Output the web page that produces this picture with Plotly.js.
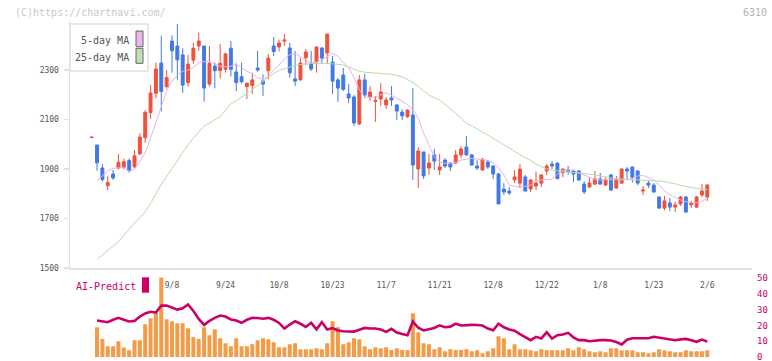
<!DOCTYPE html>
<html><head><meta charset="utf-8">
<script src="https://cdn.plot.ly/plotly-3.0.1.min.js"></script>
<style>html,body{margin:0;padding:0;background:#fff;}#chart{width:772px;height:361px;}</style>
</head><body><div id="chart"></div>
<script>
const dates = ['8/18','8/19','8/20','8/21','8/22','8/25','8/26','8/27','8/28','8/29',
'9/1','9/2','9/3','9/4','9/5','9/8','9/9','9/10','9/11','9/12',
'9/16','9/17','9/18','9/19','9/22','9/24','9/25','9/26','9/29','9/30',
'10/1','10/2','10/3','10/6','10/7','10/8','10/9','10/10','10/14','10/15',
'10/16','10/17','10/20','10/21','10/22','10/23','10/24','10/27','10/28','10/29',
'10/30','10/31','11/4','11/5','11/6','11/7','11/10','11/11','11/12','11/13',
'11/14','11/17','11/18','11/19','11/20','11/21','11/25','11/26','11/27','11/28',
'12/1','12/2','12/3','12/4','12/5','12/8','12/9','12/10','12/11','12/12',
'12/15','12/16','12/17','12/18','12/19','12/22','12/23','12/24','12/25','12/26',
'12/29','12/30','1/5','1/6','1/7','1/8','1/9','1/13','1/14','1/15',
'1/16','1/19','1/20','1/21','1/22','1/23','1/26','1/27','1/28','1/29',
'1/30','2/2','2/3','2/4','2/5','2/6'];

const openP = [2027,1997,1904,1833,1880,1904,1906,1934,1909,1961,
2026,2128,2206,2328,2233,2417,2397,2361,2249,2340,
2397,2397,2243,2316,2297,2303,2388,2292,2273,2233,
2237,2308,2255,2297,2397,2393,2417,2389,2264,2260,
2350,2328,2332,2389,2369,2332,2260,2280,2203,2191,
2082,2260,2191,2173,2183,2159,2187,2159,2130,2111,
2118,1900,1969,1904,1957,1896,1936,1924,1924,1957,
1989,1957,1912,1896,1928,1912,1880,1819,1811,1856,
1843,1868,1819,1831,1843,1892,1920,1924,1885,1896,
1892,1892,1839,1827,1839,1860,1835,1876,1823,1843,
1900,1908,1892,1811,1843,1835,1787,1742,1763,1746,
1759,1787,1755,1746,1795,1787];
const highP = [2029,1997,1920,1873,1896,1961,1942,1943,1977,2044,
2138,2239,2330,2439,2300,2440,2486,2388,2361,2410,
2451,2397,2397,2330,2405,2370,2417,2327,2330,2250,
2289,2377,2282,2365,2433,2422,2445,2409,2377,2348,
2385,2377,2395,2392,2445,2357,2268,2308,2243,2199,
2280,2284,2235,2195,2247,2191,2235,2160,2142,2142,
2227,1989,1969,1961,1981,1961,1944,1926,1977,1993,
2033,1961,1936,1944,1936,1914,1884,1843,1827,1896,
1920,1876,1858,1890,1878,1920,1932,1926,1902,1912,
1894,1896,1851,1867,1892,1884,1867,1880,1872,1902,
1908,1910,1894,1831,1856,1843,1789,1791,1783,1767,
1791,1791,1771,1791,1839,1839];
const lowP = [2027,1893,1849,1815,1856,1899,1900,1885,1903,1957,
2006,2103,2186,2132,2225,2289,2260,2208,2233,2325,
2378,2172,2233,2226,2266,2290,2273,2215,2245,2183,
2203,2293,2195,2262,2357,2375,2397,2269,2235,2258,
2320,2296,2289,2328,2324,2203,2171,2215,2167,2074,
2078,2187,2175,2090,2155,2143,2155,2098,2098,2107,
1856,1823,1860,1876,1896,1876,1904,1892,1920,1944,
1953,1914,1896,1894,1900,1860,1757,1795,1795,1843,
1823,1809,1807,1815,1827,1876,1900,1859,1867,1876,
1847,1851,1799,1825,1835,1837,1831,1811,1821,1841,
1856,1845,1835,1795,1823,1805,1740,1734,1730,1726,
1751,1724,1742,1742,1787,1771];
const closeP = [2029,1925,1858,1845,1864,1927,1930,1893,1953,2029,
2129,2207,2304,2213,2269,2378,2341,2239,2324,2388,
2417,2227,2327,2297,2327,2365,2303,2249,2253,2246,
2260,2300,2243,2348,2375,2409,2421,2289,2255,2328,
2373,2304,2393,2348,2445,2255,2227,2222,2187,2086,
2260,2199,2211,2177,2211,2179,2179,2134,2115,2138,
1916,1973,1872,1924,1932,1908,1912,1908,1957,1981,
1957,1916,1904,1940,1908,1880,1759,1807,1803,1868,
1900,1811,1856,1843,1876,1912,1912,1861,1900,1889,
1880,1856,1807,1843,1860,1839,1856,1815,1860,1900,
1892,1867,1843,1815,1835,1807,1742,1771,1746,1755,
1787,1726,1763,1787,1811,1835];

const ma5 = [null,1853,1872,1892,1903,1906,1906,1890,1900,1930,
1965,2025,2090,2150,2215,2255,2280,2295,2300,2310,
2330,2334,2334,2325,2315,2313,2315,2324,2310,2295,
2285,2268,2262,2275,2300,2320,2345,2362,2367,2352,
2340,2328,2332,2340,2355,2368,2355,2330,2310,2270,
2220,2192,2190,2190,2200,2208,2198,2185,2172,2160,
2140,2105,2045,1995,1950,1928,1923,1923,1926,1936,
1940,1943,1940,1937,1935,1925,1905,1876,1835,1830,
1828,1830,1835,1850,1856,1858,1858,1880,1896,1896,
1896,1885,1875,1866,1858,1856,1857,1858,1857,1856,
1857,1862,1872,1874,1866,1856,1835,1812,1796,1785,
1775,1768,1764,1764,1770,1782];
const ma25 = [null,1535,1553,1570,1588,1606,1632,1659,1682,1704,
1727,1761,1800,1838,1870,1903,1936,1970,1998,2025,
2050,2073,2086,2098,2111,2138,2163,2176,2190,2205,
2222,2238,2253,2270,2285,2298,2306,2313,2319,2322,
2325,2326,2327,2327,2326,2325,2323,2320,2312,2302,
2295,2291,2289,2288,2287,2286,2283,2278,2272,2262,
2250,2235,2215,2199,2188,2178,2162,2145,2125,2105,
2085,2075,2060,2048,2037,2025,2010,1998,1985,1970,
1957,1945,1935,1920,1909,1900,1896,1892,1889,1888,
1886,1885,1883,1880,1877,1872,1867,1864,1861,1860,
1860,1859,1858,1857,1856,1854,1851,1849,1846,1840,
1834,1828,1825,1822,1819,1817];

const volume = [null,300,183,110,110,160,97,70,170,170,
330,390,440,800,380,360,340,340,290,200,
183,300,220,280,190,140,110,190,110,110,
130,170,190,180,150,100,100,130,140,80,
80,80,90,80,140,360,300,130,150,190,
180,110,80,100,90,100,73,90,73,73,
440,250,140,130,80,100,60,80,73,73,
80,60,70,40,60,90,210,190,80,130,
80,80,70,60,80,70,70,70,70,90,
70,100,80,60,50,60,50,90,90,70,
70,70,50,50,40,50,80,70,60,50,
50,70,60,60,60,70];
const aiPredict = [null,23.0,22.5,22.0,23.5,24.7,23.5,22.4,22.8,25.5,
27.5,28.5,28.0,32.5,32.4,31.0,29.9,30.7,33.1,29.0,
24.0,20.3,22.8,24.7,26.2,25.5,23.7,23.0,21.6,23.5,
24.7,24.6,24.2,24.7,23.5,21.5,18.0,20.5,22.6,21.0,
19.0,21.6,17.5,22.0,17.4,18.3,16.8,16.3,16.2,16.1,
17.3,18.4,18.0,18.0,17.4,15.9,17.8,15.5,14.6,13.8,
22.4,18.5,16.8,17.5,18.4,20.0,18.8,19.2,21.0,19.9,
20.3,20.3,20.2,19.9,18.0,16.9,21.0,18.8,17.4,16.6,
14.5,12.5,10.7,12.8,11.8,15.7,11.7,13.8,14.2,15.3,
12.5,10.7,10.7,10.0,10.5,10.7,10.7,10.5,9.5,8.0,
11.0,11.9,11.9,11.9,11.9,12.8,12.2,11.5,11.0,10.7,
11.2,11.5,10.6,9.7,11.1,9.8];

const tickLabels = ['9/8','9/24','10/8','10/23','11/7','11/21','12/8','12/22','1/8','1/23','2/6'];
const priceTicks = [1500,1700,1900,2100,2300];
const aiTicks = [0,10,20,30,40,50];
const legendNames = ['5-day MA','25-day MA'];

const W = 772, H = 361;
const px = v => v / W;
const py = v => 1 - v / H;
const FONT = 'DejaVu Sans Mono, monospace';
const UP = '#f0503c', DOWN = '#4179e6';
const MA5C = '#e8b2e8', MA25C = '#b4dca6', AIC = '#cc0066', VOLC = '#f39b47';
const AXC = '#e2e2e2';

const traces = [
  {type:'bar', x:dates, y:volume, xaxis:'x', yaxis:'y3', width:0.75,
   marker:{color:VOLC, line:{width:0}}, hoverinfo:'skip'},
  {type:'scatter', mode:'lines', x:dates, y:aiPredict, xaxis:'x', yaxis:'y2',
   line:{color:AIC, width:2.6}, hoverinfo:'skip'},
  {type:'candlestick', x:dates, open:openP, high:highP, low:lowP, close:closeP,
   xaxis:'x', yaxis:'y', whiskerwidth:0,
   increasing:{line:{color:UP, width:1}, fillcolor:UP},
   decreasing:{line:{color:DOWN, width:1}, fillcolor:DOWN}, hoverinfo:'skip'},
  {type:'scatter', mode:'lines', x:dates, y:ma25, xaxis:'x', yaxis:'y',
   line:{color:MA25C, width:1}, hoverinfo:'skip'},
  {type:'scatter', mode:'lines', x:dates, y:ma5, xaxis:'x', yaxis:'y',
   line:{color:MA5C, width:1}, hoverinfo:'skip'}
];

const elevenTicks = [0,1,2,3,4,5,6,7,8,9,10,11];

const layout = {
  width:W, height:H, margin:{l:0,r:0,t:0,b:0}, autosize:false,
  paper_bgcolor:'#ffffff', plot_bgcolor:'rgba(0,0,0,0)', showlegend:false,
  hovermode:false, boxgap:0.22,
  font:{family:FONT, size:8, color:'#555'},
  xaxis:{domain:[px(70), px(752)], type:'category', range:[-4.05,123.35],
    rangeslider:{visible:false}, tickmode:'array', tickvals:tickLabels, ticktext:tickLabels,
    ticks:'', showline:true, linecolor:AXC, linewidth:1.5, showgrid:false, zeroline:false,
    tickfont:{family:FONT, size:8, color:'#555'}, ticklabelstandoff:9, anchor:'y'},
  xaxis2:{overlaying:'x', anchor:'y', range:[-0.0001,11.0001], tickmode:'array', tickvals:elevenTicks,
    ticks:'outside', ticklen:5, tickwidth:1.5, tickcolor:AXC, showticklabels:false,
    showgrid:false, zeroline:false, showline:false},
  xaxis3:{overlaying:'x', anchor:'y', range:[-0.0001,11.0001], tickmode:'array', tickvals:elevenTicks,
    ticks:'inside', ticklen:3, tickwidth:1.5, tickcolor:AXC, showticklabels:false,
    showgrid:false, zeroline:false, showline:false},
  yaxis:{domain:[py(268), py(20.5)], range:[1500,2500], tickmode:'array', tickvals:priceTicks,
    ticks:'outside', ticklen:5, tickwidth:1.5, tickcolor:AXC, showline:true, linecolor:AXC,
    linewidth:1.5, showgrid:false, zeroline:false, anchor:'x',
    tickfont:{family:FONT, size:8, color:'#555'}, ticklabelstandoff:3},
  yaxis4:{overlaying:'y', anchor:'x', range:[1500,2500], tickmode:'array', tickvals:priceTicks,
    ticks:'inside', ticklen:3, tickwidth:1.5, tickcolor:AXC, showticklabels:false,
    showline:false, showgrid:false, zeroline:false},
  yaxis3:{domain:[py(357.2), py(277.6)], range:[0,796], visible:false, anchor:'x',
    showgrid:false, zeroline:false},
  yaxis2:{overlaying:'y3', side:'right', anchor:'x', range:[0,50], tickmode:'array', tickvals:aiTicks,
    showgrid:false, zeroline:false, showline:false, ticks:'', ticklabeloverflow:'allow',
    tickfont:{family:FONT, size:9, color:AIC}, ticklabelstandoff:4},
  shapes:[
    {type:'rect', xref:'paper', yref:'paper', x0:px(70), x1:px(148), y0:py(71), y1:py(24),
     fillcolor:'#ffffff', line:{color:'#e0e0e0', width:1.5}, layer:'above'},
    {type:'rect', xref:'paper', yref:'paper', x0:px(136), x1:px(143), y0:py(46.7), y1:py(31),
     fillcolor:'#ebb6eb', line:{color:'#666', width:1}, layer:'above'},
    {type:'rect', xref:'paper', yref:'paper', x0:px(136), x1:px(143), y0:py(63.3), y1:py(48.3),
     fillcolor:'#bfe0b2', line:{color:'#666', width:1}, layer:'above'},
    {type:'rect', xref:'paper', yref:'paper', x0:px(142), x1:px(149), y0:py(292.7), y1:py(277.3),
     fillcolor:AIC, line:{width:0}, layer:'above'}
  ],
  annotations:[
    {xref:'paper', yref:'paper', x:px(13), y:py(12.5), xanchor:'left', yanchor:'middle', showarrow:false,
     text:'(C)https://chartnavi.com/', font:{family:FONT, size:10, color:'#c8c8c8'}},
    {xref:'paper', yref:'paper', x:px(769), y:py(12.5), xanchor:'right', yanchor:'middle', showarrow:false,
     text:'6310', font:{family:FONT, size:10, color:'#b4b4b4'}},
    {xref:'paper', yref:'paper', x:px(131), y:py(40), xanchor:'right', yanchor:'middle', showarrow:false,
     text:legendNames[0], font:{family:FONT, size:10, color:'#555'}},
    {xref:'paper', yref:'paper', x:px(131), y:py(57), xanchor:'right', yanchor:'middle', showarrow:false,
     text:legendNames[1], font:{family:FONT, size:10, color:'#555'}},
    {xref:'paper', yref:'paper', x:px(74), y:py(286), xanchor:'left', yanchor:'middle', showarrow:false,
     text:'AI-Predict', font:{family:FONT, size:10, color:AIC}}
  ]
};

Plotly.newPlot('chart', traces, layout, {staticPlot:true, displayModeBar:false});
</script>
</body></html>
